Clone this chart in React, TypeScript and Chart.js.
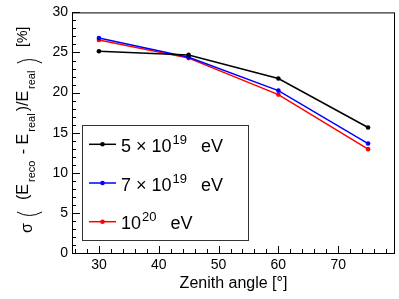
import React, { useEffect, useRef } from "react";
import { Chart, registerables } from "chart.js";

Chart.register(...registerables);

const zenithAngles = [30, 45, 60, 75];
const sigma5e19 = [25.15, 24.7, 21.75, 15.65];
const sigma7e19 = [26.8, 24.4, 20.25, 13.65];
const sigma1e20 = [26.55, 24.3, 19.75, 12.95];
const seriesColors = ["#000000", "#0000ff", "#ff0000"];
// legend label parts: [base, superscript, suffix]
const legendLabels = [
  ["5 \u00d7 10", "19", " eV"],
  ["7 \u00d7 10", "19", " eV"],
  ["10", "20", " eV"],
];
const xTicks = [30, 40, 50, 60, 70];
const yTicks = [0, 5, 10, 15, 20, 25, 30];
const xTitle = "Zenith angle [\u00b0]";

const FONT = '"Liberation Sans", Arial, Helvetica, sans-serif';

const rootPlugin = {
  id: "rootStyle",
  afterDraw(chart: any) {
    const ctx = chart.ctx as CanvasRenderingContext2D;
    const { left, right, top, bottom } = chart.chartArea;
    const xs = chart.scales.x;
    const ys = chart.scales.y;
    ctx.save();
    ctx.strokeStyle = "#000";
    ctx.lineWidth = 1;
    // frame
    ctx.strokeRect(left + 0.5, top + 0.5, right - left - 1, bottom - top);
    // y ticks
    ctx.beginPath();
    for (let v = 0; v <= 30; v++) {
      const py = Math.round(ys.getPixelForValue(v)) + 0.5;
      const len = v % 5 === 0 ? 8 : 4;
      ctx.moveTo(left, py);
      ctx.lineTo(left + len, py);
    }
    // x ticks
    for (let v = 26; v <= 79; v += 2) {
      const px = Math.round(xs.getPixelForValue(v)) + 0.5;
      const len = v % 10 === 0 ? 7 : 4;
      ctx.moveTo(px, bottom);
      ctx.lineTo(px, bottom - len);
    }
    ctx.stroke();

    // x title
    ctx.fillStyle = "#000";
    ctx.font = `16px ${FONT}`;
    ctx.textAlign = "center";
    ctx.textBaseline = "alphabetic";
    ctx.fillText(xTitle, (left + right) / 2, 288);

    // y title (rotated)
    ctx.save();
    ctx.translate(0, 299);
    ctx.rotate(-Math.PI / 2);
    ctx.textAlign = "left";
    ctx.font = `16px ${FONT}`;
    ctx.fillText("\u03c3", 66, 32);
    const paren = (u: number, dir: number) => {
      ctx.beginPath();
      ctx.moveTo(u, 17);
      ctx.quadraticCurveTo(u - dir * 7, 29.5, u, 42);
      ctx.stroke();
    };
    paren(87, 1);
    paren(236, -1);
    const runs: [string, boolean][] = [
      ["(E", false],
      ["reco", true],
      [" - E", false],
      ["real", true],
      [")/E", false],
      ["real", true],
    ];
    let u = 99;
    for (const [t, sub] of runs) {
      if (sub) {
        u += 2;
        ctx.font = `11px ${FONT}`;
        ctx.fillText(t, u, 34.5);
        u += ctx.measureText(t).width + 2;
      } else {
        ctx.font = `16px ${FONT}`;
        ctx.fillText(t, u, 27.5);
        u += ctx.measureText(t).width;
      }
    }
    ctx.font = `14px ${FONT}`;
    ctx.fillText("[%]", 252, 26.5);
    ctx.restore();

    // legend
    const lx = 82, ly = 125, lw = 166, lh = 115;
    ctx.fillStyle = "#fff";
    ctx.fillRect(lx, ly, lw, lh);
    ctx.strokeStyle = "#333";
    ctx.strokeRect(lx + 0.5, ly + 0.5, lw, lh);
    const rowY = [144.3, 183, 221.7];
    legendLabels.forEach((parts, i) => {
      const yy = rowY[i];
      const col = seriesColors[i];
      ctx.strokeStyle = col;
      ctx.fillStyle = col;
      ctx.lineWidth = 1.5;
      ctx.beginPath();
      ctx.moveTo(89, yy);
      ctx.lineTo(116, yy);
      ctx.stroke();
      ctx.beginPath();
      ctx.arc(102.5, yy, 2.3, 0, Math.PI * 2);
      ctx.fill();
      ctx.fillStyle = "#000";
      ctx.textAlign = "left";
      let x = 121;
      const base = yy + 7.5;
      ctx.font = `18px ${FONT}`;
      ctx.fillText(parts[0], x, base);
      x += ctx.measureText(parts[0]).width + 1;
      ctx.font = `13px ${FONT}`;
      ctx.fillText(parts[1], x, base - 8);
      x += ctx.measureText(parts[1]).width + 9;
      ctx.font = `18px ${FONT}`;
      ctx.fillText(parts[2], x, base);
    });
    ctx.restore();
  },
};

export default function App() {
  const ref = useRef<HTMLCanvasElement>(null);
  useEffect(() => {
    document.body.style.margin = "0";
    const mk = (data: number[], i: number) => ({
      data: zenithAngles.map((a, k) => ({ x: a, y: data[k] })),
      borderColor: seriesColors[i],
      backgroundColor: seriesColors[i],
      borderWidth: 1.5,
      pointRadius: 2.3,
      pointBorderWidth: 0,
      pointBackgroundColor: seriesColors[i],
      tension: 0,
    });
    const chart = new Chart(ref.current!, {
      type: "line",
      data: {
        datasets: [mk(sigma5e19, 0), mk(sigma7e19, 1), mk(sigma1e20, 2)],
      },
      options: {
        animation: false,
        responsive: false,
        maintainAspectRatio: false,
        layout: { padding: { left: 0, top: 11, right: 4, bottom: 0 } },
        plugins: { legend: { display: false }, tooltip: { enabled: false } },
        scales: {
          x: {
            type: "linear",
            min: 25.5,
            max: 79.5,
            grid: { display: false, drawTicks: false },
            border: { display: false },
            afterBuildTicks: (s: any) => {
              s.ticks = xTicks.map((v) => ({ value: v }));
            },
            afterFit: (s: any) => {
              s.height = 46;
            },
            ticks: {
              padding: 4,
              color: "#000",
              autoSkip: false,
              maxRotation: 0,
              font: { family: FONT, size: 14 },
            },
          },
          y: {
            type: "linear",
            min: 0,
            max: 30,
            grid: { display: false, drawTicks: false },
            border: { display: false },
            afterBuildTicks: (s: any) => {
              s.ticks = yTicks.map((v) => ({ value: v }));
            },
            afterFit: (s: any) => {
              s.width = 72;
            },
            ticks: {
              padding: 4,
              color: "#000",
              autoSkip: false,
              font: { family: FONT, size: 14 },
            },
          },
        },
      },
      plugins: [rootPlugin],
    });
    return () => chart.destroy();
  }, []);
  return (
    <div style={{ position: "fixed", left: 0, top: 0, width: 399, height: 299, background: "#fff" }}>
      <canvas ref={ref} width={399} height={299} style={{ width: 399, height: 299, display: "block" }} />
    </div>
  );
}
